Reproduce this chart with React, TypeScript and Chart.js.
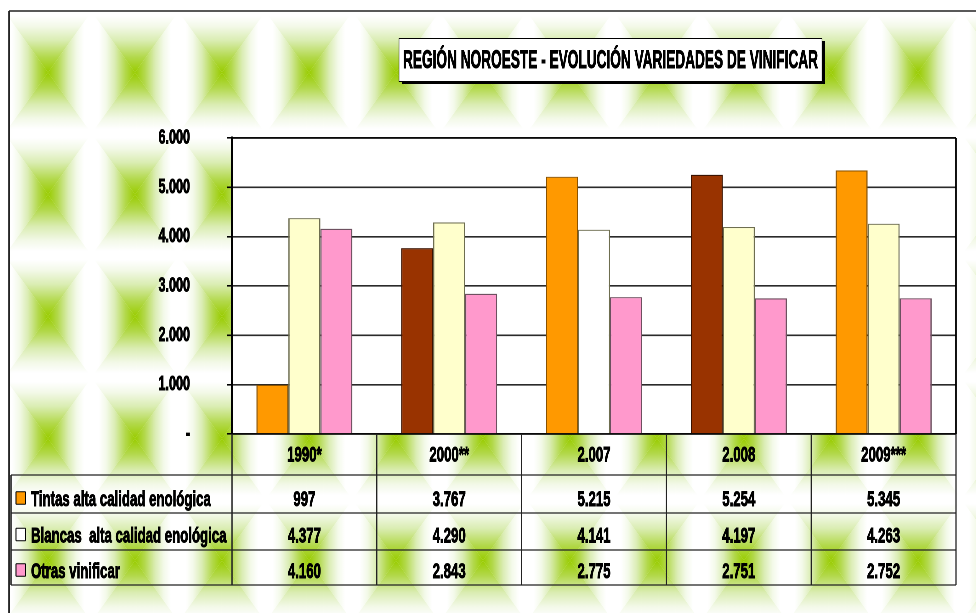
import React, { useEffect, useRef } from 'react';
import { Chart, registerables } from 'chart.js';

Chart.register(...registerables);

// ---- data ----
const categories = ['1990*', '2000**', '2.007', '2.008', '2009***'];
const seriesNames = ['Tintas alta calidad enológica', 'Blancas  alta calidad enológica', 'Otras vinificar'];
const tintas = [997, 3767, 5215, 5254, 5345];
const blancas = [4377, 4290, 4141, 4197, 4263];
const otras = [4160, 2843, 2775, 2751, 2752];
const yMin = 0;
const yMax = 6000;
const yStep = 1000;
const titleText = 'REGIÓN NOROESTE - EVOLUCIÓN VARIEDADES DE VINIFICAR';

// ---- styles ----
const tintasColors = ['#FF9900', '#993300', '#FF9900', '#993300', '#FF9900'];
const tintasBorders = ['#8A5200', '#3A1200', '#8A5200', '#3A1200', '#8A5200'];
const blancasColors = ['#FFFFCC', '#FFFFCC', '#FFFFFF', '#FFFFCC', '#FFFFCC'];
const otrasColors = ['#FF99CC', '#FF99CC', '#FF99CC', '#FF99CC', '#FF99CC'];
const legendColors = ['#FF9900', '#FFFFFF', '#FF99CC'];

// The picture is drawn on a wider logical canvas and squeezed horizontally,
// which gives the tall, narrow lettering of the original.
const LW = 1550;
const H = 613;
const SX = 976 / LW;
const X = (v: number) => v / SX;
const FONT = "'Liberation Sans', Arial, sans-serif";

const fmt = (n: number) => (n === 0 ? '-' : String(Math.round(n)).replace(/\B(?=(\d{3})+(?!\d))/g, '.'));

const vStops: [number, string][] = [
  [0, '#99CC00'],
  [0.25, '#B3D94C'],
  [0.52, '#DAEDB2'],
  [0.75, '#F3F9E8'],
  [0.92, '#FFFFFF'],
  [1, '#FFFFFF'],
];
const hStops: [number, string][] = [
  [0, '#99CC00'],
  [0.22, '#B3D94C'],
  [0.46, '#DBEDB4'],
  [0.66, '#F4FAEA'],
  [0.82, '#FFFFFF'],
  [1, '#FFFFFF'],
];

function tri(ctx: CanvasRenderingContext2D, cx: number, cy: number, x1: number, y1: number, x2: number, y2: number, ex: number, ey: number, stops: [number, string][]) {
  const g = ctx.createLinearGradient(cx, cy, ex, ey);
  stops.forEach(([o, c]) => g.addColorStop(o, c));
  ctx.fillStyle = g;
  ctx.beginPath();
  ctx.moveTo(cx, cy);
  ctx.lineTo(x1, y1);
  ctx.lineTo(x2, y2);
  ctx.closePath();
  ctx.fill();
}

const bgPlugin = {
  id: 'bgPlugin',
  beforeDraw(chart: any) {
    const ctx: CanvasRenderingContext2D = chart.ctx;
    const ca = chart.chartArea;
    ctx.save();
    ctx.fillStyle = '#fff';
    ctx.fillRect(0, 0, LW, H);
    const fx = X(9);
    const fy = 11;
    ctx.save();
    ctx.beginPath();
    ctx.rect(fx, fy, LW - fx, H - fy);
    ctx.clip();
    const tw = X(87);
    const th = 122;
    const hw = tw / 2 + 0.4;
    const hh = th / 2 + 0.3;
    for (let cx = X(48) - tw; cx < LW + tw; cx += tw) {
      for (let cy = 72.5 - th; cy < H + th; cy += th) {
        tri(ctx, cx, cy, cx - hw, cy - hh, cx + hw, cy - hh, cx, cy - hh, vStops);
        tri(ctx, cx, cy, cx - hw, cy + hh, cx + hw, cy + hh, cx, cy + hh, vStops);
        tri(ctx, cx, cy, cx - hw, cy - hh, cx - hw, cy + hh, cx - hw, cy, hStops);
        tri(ctx, cx, cy, cx + hw, cy - hh, cx + hw, cy + hh, cx + hw, cy, hStops);
      }
    }
    ctx.restore();
    // outer frame
    ctx.strokeStyle = '#222';
    ctx.lineWidth = X(1.5);
    ctx.beginPath();
    ctx.moveTo(fx, H + 2);
    ctx.lineTo(fx, fy);
    ctx.stroke();
    ctx.lineWidth = 1.5;
    ctx.beginPath();
    ctx.moveTo(fx, fy);
    ctx.lineTo(LW + 2, fy);
    ctx.stroke();
    // plot area
    ctx.fillStyle = '#fff';
    ctx.fillRect(ca.left, ca.top, ca.right - ca.left, ca.bottom - ca.top);
    // title box
    const bx = X(399), by = 38, bw = X(423), bh = 43;
    ctx.fillStyle = '#000';
    ctx.fillRect(bx + X(3), by + 3, bw, bh);
    ctx.fillStyle = '#fff';
    ctx.fillRect(bx, by, bw, bh);
    ctx.strokeStyle = '#000';
    ctx.lineWidth = 1;
    ctx.strokeRect(bx, by + 0.5, bw, bh);
    ctx.fillStyle = '#000';
    ctx.strokeStyle = '#000';
    ctx.lineWidth = 0.9;
    ctx.font = `bold 25px ${FONT}`;
    ctx.textAlign = 'center';
    ctx.textBaseline = 'alphabetic';
    ctx.fillText(titleText, bx + bw / 2, 68, X(415));
    ctx.strokeText(titleText, bx + bw / 2, 68, X(415));
    ctx.restore();
  },
  afterDatasetsDraw(chart: any) {
    const ctx: CanvasRenderingContext2D = chart.ctx;
    const ca = chart.chartArea;
    ctx.save();
    ctx.strokeStyle = '#000';
    ctx.lineWidth = 1.5;
    ctx.beginPath();
    ctx.moveTo(ca.left, ca.top);
    ctx.lineTo(ca.right, ca.top);
    ctx.moveTo(ca.left, ca.bottom);
    ctx.lineTo(ca.right, ca.bottom);
    ctx.stroke();
    ctx.lineWidth = X(1.5);
    ctx.beginPath();
    ctx.moveTo(ca.right, ca.top);
    ctx.lineTo(ca.right, ca.bottom);
    ctx.stroke();
    ctx.restore();
  },
  afterDraw(chart: any) {
    const ctx: CanvasRenderingContext2D = chart.ctx;
    const xs = chart.scales.x;
    const ca = chart.chartArea;
    const n = categories.length;
    const half = (xs.getPixelForValue(1) - xs.getPixelForValue(0)) / 2;
    const left = xs.getPixelForValue(0) - half;
    const right = xs.getPixelForValue(n - 1) + half;
    const rowLines = [475, 513, 550, 585];
    const baselines = [506, 542.5, 578];
    const labelMax = [X(181), X(196), X(90)];
    const tableLeft = X(11);
    const bottom = rowLines[rowLines.length - 1];
    ctx.save();
    ctx.strokeStyle = '#222';
    ctx.lineWidth = X(1.2);
    ctx.beginPath();
    for (let i = 0; i <= n; i++) {
      const x = left + i * 2 * half;
      ctx.moveTo(x, ca.bottom);
      ctx.lineTo(x, bottom);
    }
    ctx.moveTo(tableLeft, rowLines[0]);
    ctx.lineTo(tableLeft, bottom);
    ctx.stroke();
    ctx.lineWidth = 1.2;
    ctx.beginPath();
    rowLines.forEach((yy) => {
      ctx.moveTo(tableLeft, yy);
      ctx.lineTo(right, yy);
    });
    ctx.stroke();

    const rows = [tintas, blancas, otras];
    ctx.font = `bold 21px ${FONT}`;
    ctx.textBaseline = 'alphabetic';
    rows.forEach((vals, r) => {
      const bl = baselines[r];
      // legend key
      const kh = 12.6;
      const ky = bl - 1.7 - kh;
      ctx.fillStyle = legendColors[r];
      ctx.fillRect(X(16), ky, X(9.5), kh);
      ctx.strokeStyle = '#000';
      ctx.lineWidth = 1;
      ctx.beginPath();
      ctx.moveTo(X(16), ky);
      ctx.lineTo(X(25.5), ky);
      ctx.moveTo(X(16), ky + kh);
      ctx.lineTo(X(25.5), ky + kh);
      ctx.stroke();
      ctx.lineWidth = X(1);
      ctx.beginPath();
      ctx.moveTo(X(16), ky);
      ctx.lineTo(X(16), ky + kh);
      ctx.moveTo(X(25.5), ky);
      ctx.lineTo(X(25.5), ky + kh);
      ctx.stroke();
      ctx.fillStyle = '#000';
      ctx.lineWidth = 0.9;
      ctx.textAlign = 'left';
      ctx.fillText(seriesNames[r], X(31), bl, labelMax[r]);
      ctx.strokeText(seriesNames[r], X(31), bl, labelMax[r]);
      ctx.textAlign = 'center';
      vals.forEach((v, i) => {
        ctx.fillText(fmt(v), xs.getPixelForValue(i), bl);
        ctx.strokeText(fmt(v), xs.getPixelForValue(i), bl);
      });
    });
    ctx.restore();
  },
};

export default function App() {
  const ref = useRef<HTMLCanvasElement | null>(null);
  useEffect(() => {
    document.body.style.overflow = 'hidden';
    document.documentElement.style.overflow = 'hidden';
    const canvas = ref.current;
    if (!canvas) return;
    const chart = new Chart(canvas, {
      type: 'bar',
      data: {
        labels: categories,
        datasets: [
          { label: seriesNames[0], data: tintas, backgroundColor: tintasColors, borderColor: tintasBorders },
          { label: seriesNames[1], data: blancas, backgroundColor: blancasColors, borderColor: '#6E6E50' },
          { label: seriesNames[2], data: otras, backgroundColor: otrasColors, borderColor: '#6E5060' },
        ],
      },
      options: {
        animation: false,
        responsive: true,
        maintainAspectRatio: false,
        devicePixelRatio: 2,
        layout: { padding: { left: 0, right: X(976 - 956), top: 138, bottom: 0 } },
        datasets: {
          bar: {
            barPercentage: 1,
            categoryPercentage: 0.663,
            borderWidth: { top: 1.2, bottom: 0, left: X(1.2), right: X(1.2) },
          },
        },
        plugins: {
          legend: { display: false },
          tooltip: { enabled: false },
          title: { display: false },
        },
        scales: {
          x: {
            type: 'category',
            offset: true,
            grid: { display: false, drawTicks: false },
            border: { display: false },
            ticks: {
              color: '#000',
              font: { family: FONT, size: 21, weight: 'bold' },
              textStrokeColor: '#000',
              textStrokeWidth: 0.9,
              padding: 9,
              maxRotation: 0,
              autoSkip: false,
            },
            afterFit: (s: any) => {
              s.height = H - 434;
            },
          },
          y: {
            min: yMin,
            max: yMax,
            ticks: {
              stepSize: yStep,
              callback: (v: any) => fmt(Number(v)),
              color: '#000',
              font: { family: FONT, size: 20, weight: 'bold' },
              textStrokeColor: '#000',
              textStrokeWidth: 0.9,
              padding: X(232 - 5 - 190),
            },
            grid: { color: '#2A2A2A', tickColor: '#000', lineWidth: 1.6, tickLength: X(5), drawTicks: true },
            border: { display: true, color: '#000', width: X(2) },
            afterFit: (s: any) => {
              s.width = X(232);
            },
          },
        },
      } as any,
      plugins: [bgPlugin],
    });
    return () => chart.destroy();
  }, []);
  return (
    <div
      style={{
        position: 'absolute',
        left: 0,
        top: 0,
        width: LW,
        height: H,
        transform: `scaleX(${SX})`,
        transformOrigin: '0 0',
      }}
    >
      <canvas ref={ref} />
    </div>
  );
}
